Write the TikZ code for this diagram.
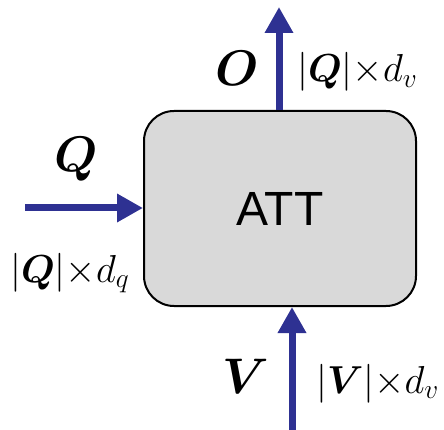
\RequirePackage{fix-cm}
\documentclass[tikz,border=0pt]{standalone}
\usepackage{amsmath}
\usepackage{bm}
\usepackage{fontspec}
\newfontfamily\attfont{Liberation Sans}
\usetikzlibrary{arrows.meta}
\definecolor{arrowblue}{RGB}{46,49,146}
\definecolor{boxgray}{RGB}{217,217,217}
\tikzset{
  flow/.style={draw=arrowblue, line width=7pt, -{Triangle[length=26pt,width=27pt]}},
  bigsym/.style={font=\fontsize{50}{54}\selectfont, inner sep=0pt},
  dimlabel/.style={font=\fontsize{39}{43}\selectfont, inner sep=0pt},
  attbox/.style={draw=black, line width=2pt, fill=boxgray, rounded corners=30pt}
}
\begin{document}
\begin{tikzpicture}[x=1pt,y=-1pt]
  \useasboundingbox (0,0) rectangle (444,430);
  \node[attbox, minimum width=272pt, minimum height=195pt, anchor=north west,
        font=\attfont\fontsize{48}{52}\selectfont, inner sep=0pt] (att) at (143,110) {ATT};
  \coordinate (otop) at (279,7);
  \coordinate (qleft) at (25,208);
  \coordinate (vbot) at (292,430);
  \draw[flow] (att.north -| otop) -- (otop);
  \draw[flow] (qleft) -- (qleft -| att.west);
  \draw[flow] (vbot) -- (vbot |- att.south);
  \node[bigsym, anchor=base] (O) at (237,86) {$\bm{O}$};
  \node[dimlabel, anchor=base west] (odim) at (297,82) {$|\bm{Q}|{\times} d_v$};
  \node[bigsym, anchor=base] (Q) at (76,172) {$\bm{Q}$};
  \node[dimlabel, anchor=base west] (qdim) at (10,282) {$|\bm{Q}|{\times} d_q$};
  \node[bigsym, anchor=base] (V) at (246,393) {$\bm{V}$};
  \node[dimlabel, anchor=base west] (vdim) at (316,393) {$|\bm{V}|{\times} d_v$};
\end{tikzpicture}
\end{document}
